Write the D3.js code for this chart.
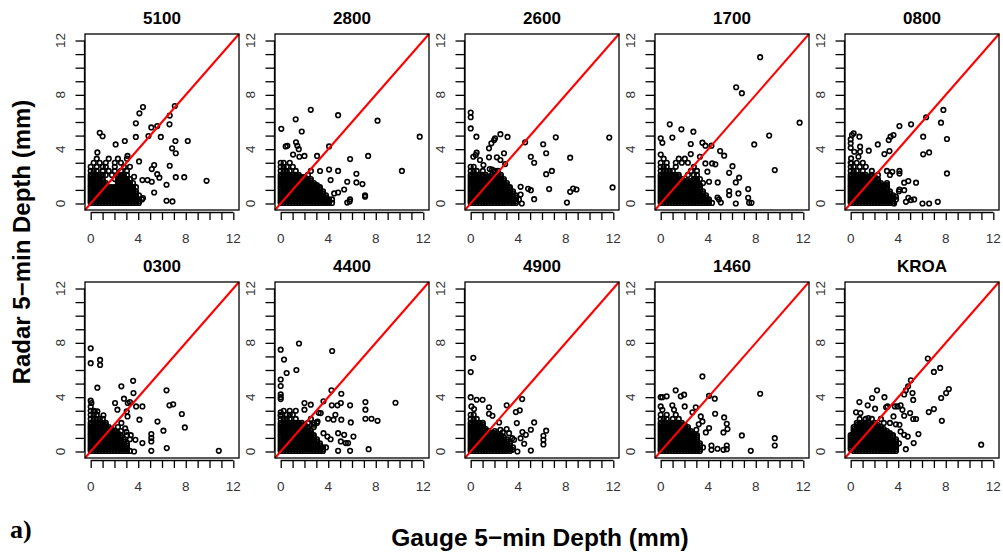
<!DOCTYPE html>
<html><head><meta charset="utf-8">
<script src="https://cdn.jsdelivr.net/npm/d3@7"></script>
<style>body{margin:0;background:#fff}svg{display:block;font-family:"Liberation Sans",Arial,sans-serif}</style>
</head><body>
<svg id="c" width="1003" height="552"></svg>
<script>
// ---------- data ----------
const stations = ["5100","2800","2600","1700","0800","0300","4400","4900","1460","KROA"];
const axisTicks = [0,1,2,3,4,5,6,7,8,9,10,11,12];
const axisLabels = [0,4,8,12];
const axisLimits = [0,12];
const xTitle = "Gauge 5\u2212min Depth (mm)";
const yTitle = "Radar 5\u2212min Depth (mm)";

// scattered points [gauge, radar]
const o5100 = [[.56,3.76],[.76,5.2],[1.0,4.95],[2.1,4.35],[2.87,4.6],[3.1,3.5],[3.8,5.9],[3.8,4.9],[4.1,6.64],[4.4,7.1],[4.07,3.1],[4.86,4.97],[5.1,5.6],[5.6,5.7],[5.9,4.9],[6.65,6.47],[6.63,5.83],[7.08,7.18],[6.85,4.06],[7.13,4.6],[7.16,3.7],[8.17,4.6],[9.75,1.67],[5.34,2.83],[5.14,2.53],[6.65,2.78],[5.6,2.16],[5.78,1.9],[7.16,1.94],[7.87,1.94],[6.38,1.38],[5.34,.81],[5.14,1.6],[4.4,.4],[6.38,.2],[6.88,.15],[4.78,1.72],[4.35,1.72],[3.65,1.97]];
const o2800 = [[.05,5.5],[.42,4.2],[.56,4.25],[1.04,3.6],[1.26,6.2],[1.29,4.5],[1.4,4.25],[1.52,4.0],[1.57,3.44],[1.77,5.3],[2.0,3.5],[2.53,6.9],[3.06,3.5],[4.07,4.2],[4.83,6.5],[5.84,3.27],[7.36,3.5],[8.15,6.1],[10.2,2.4],[11.7,4.92],[4.07,2.5],[4.83,2.4],[3.31,2.39],[4.2,1.72],[5.6,1.6],[6.37,2.19],[6.37,1.55],[6.88,1.43],[5.34,1.03],[4.83,.81],[4.5,.74],[5.6,.07],[5.84,.3],[7.1,.6],[7.1,.5],[4.07,.12],[3.65,.37],[5.8,.15]];
const o2600 = [[0,6.7],[0,6.35],[0,5.53],[.48,4.92],[.42,3.57],[.22,3.44],[.5,3.74],[.78,3.2],[1.07,2.83],[1.54,4.06],[1.74,4.43],[1.97,4.67],[2.05,4.8],[2.5,5.1],[3.1,4.9],[2.8,3.7],[2.5,3.2],[1.54,3.4],[1.6,2.53],[1.8,2.5],[4.58,4.5],[5.06,3.44],[5.34,3.0],[6.1,4.36],[6.35,3.7],[7.16,4.87],[6.35,2.16],[6.83,2.4],[6.6,1.06],[5.34,.32],[4.83,1.08],[5.06,.98],[4.2,1.23],[4.2,.66],[4.3,0],[8.37,3.37],[8.1,.07],[8.37,.86],[8.62,1.1],[8.9,1.03],[11.66,4.85],[11.94,1.18],[2.2,3.4],[2.9,2.9]];
const o1700 = [[0,4.8],[.14,4.47],[0,3.6],[.76,5.83],[.98,4.85],[1.74,5.46],[2.75,5.29],[2.53,4.38],[2.53,3.64],[3.51,4.48],[3.76,4.26],[4.27,4.26],[3.3,3.44],[3.76,2.95],[4.33,2.95],[4.6,2.88],[5.0,3.86],[5.34,3.52],[4.8,1.55],[6.04,2.75],[5.76,2.26],[6.6,1.9],[6.32,1.55],[5.76,.91],[5.76,.62],[6.54,.74],[7.36,1.06],[7.36,.42],[7.44,.05],[7.64,.05],[6.32,0],[4.78,.44],[4.9,.3],[5.06,.07],[6.35,8.56],[6.83,8.12],[8.37,10.77],[7.87,4.35],[9.13,5.0],[9.6,2.46],[11.69,5.95],[3.93,2.34],[4.07,1.6]];
const o0800 = [[0,4.72],[0,4.43],[0,4.1],[.11,5.04],[.25,5.17],[.73,4.92],[.03,3.32],[.03,2.95],[.3,3.81],[.79,4.18],[.79,3.81],[.65,3.44],[1.52,3.89],[2.28,4.35],[2.84,3.64],[3.26,3.86],[3.2,4.67],[3.35,4.92],[3.6,5.04],[4.1,5.7],[5.08,5.83],[6.35,6.35],[6.1,4.92],[6.1,3.62],[6.6,3.76],[7.6,5.95],[7.8,6.89],[8.1,4.75],[8.1,2.21],[4.5,1.53],[4.85,1.65],[5.5,1.53],[4.5,.98],[4.1,1.03],[4.85,.42],[5.06,.25],[5.34,.3],[4.65,.12],[6.04,0],[6.6,0],[7.33,.12],[3.65,0],[3.8,.5],[4.1,2.4],[4.1,2.2],[3.5,2.33]];
const o0300 = [[0,7.6],[0,6.5],[.79,6.74],[.79,6.37],[.56,4.7],[0,3.74],[.06,3.57],[.34,2.95],[.56,2.95],[1.07,2.66],[2.58,4.8],[2.8,3.89],[2.05,3.57],[2.25,3.08],[3.12,3.57],[3.3,3.64],[3.57,5.2],[3.6,4.3],[3.82,3.32],[4.35,3.32],[4.1,2.34],[3.1,2.58],[2.58,2.1],[3.03,2.95],[6.38,4.5],[6.63,3.4],[6.94,3.47],[7.67,2.76],[7.92,1.77],[5.62,2.2],[6.12,1.53],[5.1,1.28],[5.1,1.0],[5.1,.74],[5.1,.05],[6.4,.25],[4.35,.62],[3.76,.86],[3.65,0],[10.78,.05],[3.37,1.2],[2.9,1.7],[3.0,1.45]];
const o4400 = [[0,7.5],[.28,6.77],[.5,5.78],[0,5.3],[0,4.82],[0,4.2],[0,4.0],[0,3.86],[0,2.88],[0,2.63],[1.32,6.0],[1.54,7.95],[4.33,7.4],[4.27,4.5],[5.1,4.25],[3.6,3.69],[4.3,3.4],[4.78,3.4],[5.06,3.57],[5.84,3.4],[3.99,2.41],[4.44,2.34],[4.6,2.7],[5.1,2.34],[5.9,2.14],[7.13,3.64],[7.13,3.08],[7.13,2.41],[7.64,2.41],[8.15,2.26],[9.66,3.59],[3.6,1.35],[3.93,1.1],[4.2,.9],[4.83,1.35],[5.34,1.23],[5.06,.74],[5.48,.62],[5.67,.62],[6.12,1.1],[4.83,.05],[5.84,.05],[7.4,.17],[2.0,3.57],[2.53,3.45],[2.0,3.08],[3.37,2.83],[3.1,2.2],[2.8,1.97],[3.2,2.85]];
const o4900 = [[.22,6.9],[0,5.85],[0,4.0],[.5,3.81],[1.0,3.81],[.06,3.32],[.28,3.12],[1.54,3.25],[1.54,2.78],[1.83,2.63],[2.39,2.14],[3.03,3.4],[3.8,2.9],[4.13,3.03],[4.33,3.86],[3.88,2.09],[5.34,2.14],[5.06,1.6],[4.35,1.43],[6.35,1.53],[6.12,1.16],[6.12,.86],[6.12,.52],[5.06,.07],[4.64,1.23],[4.2,.98],[4.5,.57],[3.93,0],[3.5,.12],[3.03,1.65],[3.23,1.35],[3.5,.98],[3.65,.86],[2.7,1.4],[2.5,1.6]];
const o1460 = [[0,4.0],[.14,4.0],[.5,4.06],[0,3.32],[.14,3.07],[1.26,4.5],[.98,3.4],[1.12,3.07],[1.69,4.06],[1.97,4.18],[2.02,3.32],[2.95,3.25],[2.67,2.88],[3.51,5.53],[3.37,2.58],[3.51,2.21],[4.07,4.1],[4.55,3.89],[4.58,2.78],[5.34,2.51],[5.56,2.04],[5.62,1.65],[5.28,1.4],[4.07,1.72],[3.8,1.4],[6.83,1.18],[5.56,.44],[5.56,.17],[5.28,.12],[4.78,.2],[4.27,.44],[4.27,.12],[7.58,.05],[8.37,4.25],[9.6,.98],[9.6,.44],[3.2,2.0],[3.0,1.6]];
const oKROA = [[.73,3.64],[.45,2.88],[.82,2.83],[1.49,2.46],[1.43,3.4],[1.8,3.94],[2.22,4.5],[2.05,3.15],[2.84,4.0],[2.98,3.25],[3.1,3.32],[3.6,2.58],[3.71,3.32],[3.93,3.32],[4.2,3.4],[4.35,3.07],[4.5,2.63],[4.5,4.2],[4.64,4.5],[4.83,4.8],[5.06,5.24],[5.2,4.3],[5.26,3.8],[5.0,2.83],[5.26,2.39],[5.5,2.39],[5.7,1.28],[5.3,.62],[4.64,.17],[4.8,1.1],[4.5,1.23],[4.2,1.48],[4.1,1.97],[6.49,6.84],[7.0,5.86],[7.53,6.15],[7.61,3.94],[7.0,3.12],[6.57,2.9],[7.67,2.26],[8.03,4.3],[8.26,4.6],[10.98,.5],[3.3,2.1],[3.8,2.0]];

// dense low-depth clusters: radar value y, gauge values x (0.254 mm tips)
const c5100 = [
 {y:.04,x:[0,.25,.51,.76,1.02,1.27,1.52,1.78,2.03,2.29,2.54,2.79,3.05,3.3,3.56,3.81,4.06]},
 {y:.17,x:[0,.25,.51,.76,1.02,1.27,1.52,1.78,2.03,2.29,2.54,2.79,3.05,3.3,3.56,3.81,4.06]},
 {y:.3,x:[0,.25,.51,.76,1.02,1.27,1.52,1.78,2.03,2.29,2.54,2.79,3.05,3.3,3.56,3.81,4.06,4.32]},
 {y:.45,x:[0,.25,.51,.76,1.02,1.27,1.52,1.78,2.03,2.29,2.54,2.79,3.05,3.3,3.56,3.81]},
 {y:.6,x:[0,.25,.51,.76,1.02,1.27,1.52,1.78,2.03,2.29,2.54,2.79,3.05,3.3,3.56,3.81,4.06]},
 {y:.75,x:[0,.25,.51,.76,1.02,1.27,1.52,1.78,2.03,2.29,2.54,2.79,3.05,3.3,3.56,3.81]},
 {y:.9,x:[0,.25,.51,.76,1.02,1.27,1.52,1.78,2.03,2.29,2.54,2.79,3.05,3.3,3.56,3.81]},
 {y:1.05,x:[0,.25,.51,.76,1.02,1.27,1.52,1.78,2.03,2.29,2.54,2.79,3.05,3.3,3.56]},
 {y:1.2,x:[0,.25,.51,.76,1.02,1.27,1.52,1.78,2.03,2.29,2.54,2.79,3.05,3.3,3.56,3.81]},
 {y:1.35,x:[0,.25,.51,.76,1.02,1.27,2.29,2.54,2.79,3.05,3.3]},
 {y:1.5,x:[0,.25,.51,.76,1.02,1.27,2.29,2.54,2.79,3.05,3.3,3.56]},
 {y:1.65,x:[0,.25,.51,.76,1.02,2.29,2.54,2.79,3.05]},
 {y:1.8,x:[0,.25,.51,.76,1.02,2.03,2.29,2.54,2.79,3.05,3.3]},
 {y:1.95,x:[0,.25,.51,.76,2.29,2.54,2.79]},
 {y:2.1,x:[0,.25,.51,.76,1.02,1.27,1.78,2.29,2.54,2.79,3.05]},
 {y:2.4,x:[0,.25,.51,1.02,1.52,2.03,2.54,3.05]},
 {y:2.7,x:[0,.51,1.02,1.27,2.03,2.79,3.3]},
 {y:3.0,x:[.25,.76,1.27,2.03,2.54]},
 {y:3.3,x:[.51,1.52,2.29,3.05]}];
const c2800 = [
 {y:.04,x:[0,.25,.51,.76,1.02,1.27,1.52,1.78,2.03,2.29,2.54,2.79,3.05,3.3,3.56,3.81,4.06,4.32]},
 {y:.17,x:[0,.25,.51,.76,1.02,1.27,1.52,1.78,2.03,2.29,2.54,2.79,3.05,3.3,3.56,3.81,4.06]},
 {y:.3,x:[0,.25,.51,.76,1.02,1.27,1.52,1.78,2.03,2.29,2.54,2.79,3.05,3.3,3.56,3.81,4.06,4.32]},
 {y:.45,x:[0,.25,.51,.76,1.02,1.27,1.52,1.78,2.03,2.29,2.54,2.79,3.05,3.3,3.56,3.81]},
 {y:.6,x:[0,.25,.51,.76,1.02,1.27,1.52,1.78,2.03,2.29,2.54,2.79,3.05,3.3,3.56,3.81]},
 {y:.75,x:[0,.25,.51,.76,1.02,1.27,1.52,1.78,2.03,2.29,2.54,2.79,3.05,3.3,3.56]},
 {y:.9,x:[0,.25,.51,.76,1.02,1.27,1.52,1.78,2.03,2.29,2.54,2.79,3.05,3.3,3.56]},
 {y:1.05,x:[0,.25,.51,.76,1.02,1.27,1.52,1.78,2.03,2.29,2.54,2.79,3.05,3.3]},
 {y:1.2,x:[0,.25,.51,.76,1.02,1.27,1.52,1.78,2.03,2.29,2.54,2.79,3.05,3.3]},
 {y:1.35,x:[0,.25,.51,.76,1.02,1.27,1.52,1.78,2.03,2.29,2.54,2.79,3.05]},
 {y:1.5,x:[0,.25,.51,.76,1.02,1.27,1.52,1.78,2.03,2.29,2.54,2.79]},
 {y:1.65,x:[0,.25,.51,.76,1.02,1.27,1.52,1.78,2.03,2.29,2.54]},
 {y:1.8,x:[0,.25,.51,.76,1.02,1.27,1.52,1.78,2.03,2.29,2.54]},
 {y:1.95,x:[0,.25,.51,.76,1.02,1.27,1.52,1.78,2.03]},
 {y:2.1,x:[0,.25,.51,.76,1.02,1.27,1.52,2.29]},
 {y:2.4,x:[0,.25,.51,.76,1.27,2.54]},
 {y:2.7,x:[0,.25,.51,1.02]},
 {y:3.0,x:[0,.25,.76]}];
const c2600 = [
 {y:.04,x:[0,.25,.51,.76,1.02,1.27,1.52,1.78,2.03,2.29,2.54,2.79,3.05,3.3,3.56,3.81]},
 {y:.17,x:[0,.25,.51,.76,1.02,1.27,1.52,1.78,2.03,2.29,2.54,2.79,3.05,3.3,3.56,3.81]},
 {y:.3,x:[0,.25,.51,.76,1.02,1.27,1.52,1.78,2.03,2.29,2.54,2.79,3.05,3.3,3.56,3.81,4.06]},
 {y:.45,x:[0,.25,.51,.76,1.02,1.27,1.52,1.78,2.03,2.29,2.54,2.79,3.05,3.3,3.56,3.81]},
 {y:.6,x:[0,.25,.51,.76,1.02,1.27,1.52,1.78,2.03,2.29,2.54,2.79,3.05,3.3,3.56,3.81]},
 {y:.75,x:[0,.25,.51,.76,1.02,1.27,1.52,1.78,2.03,2.29,2.54,2.79,3.05,3.3,3.56]},
 {y:.9,x:[0,.25,.51,.76,1.02,1.27,1.52,1.78,2.03,2.29,2.54,2.79,3.05,3.3,3.56]},
 {y:1.05,x:[0,.25,.51,.76,1.02,1.27,1.52,1.78,2.03,2.29,2.54,2.79,3.05,3.3]},
 {y:1.2,x:[0,.25,.51,.76,1.02,1.27,1.52,1.78,2.03,2.29,2.54,2.79,3.05,3.3]},
 {y:1.35,x:[0,.25,.51,.76,1.02,1.27,1.52,1.78,2.03,2.29,2.54,2.79,3.05]},
 {y:1.5,x:[0,.25,.51,.76,1.02,1.27,1.52,1.78,2.03,2.29,2.54,2.79,3.05]},
 {y:1.65,x:[0,.25,.51,.76,1.02,1.27,1.52,1.78,2.03,2.29,2.54,2.79]},
 {y:1.8,x:[0,.25,.51,.76,1.02,1.27,1.52,1.78,2.03,2.29,2.54,2.79]},
 {y:1.95,x:[0,.25,.51,.76,1.02,1.27,1.52,1.78,2.03,2.29,2.54]},
 {y:2.1,x:[0,.25,.51,.76,1.02,1.27,1.78,2.03,2.29,2.54]},
 {y:2.4,x:[0,.25,.51,1.02,2.03,2.29]},
 {y:2.7,x:[0,.25]}];
const c1700 = [
 {y:.04,x:[0,.25,.51,.76,1.02,1.27,1.52,1.78,2.03,2.29,2.54,2.79,3.05,3.3,3.56,3.81,4.06,4.32]},
 {y:.17,x:[0,.25,.51,.76,1.02,1.27,1.52,1.78,2.03,2.29,2.54,2.79,3.05,3.3,3.56,3.81,4.06]},
 {y:.3,x:[0,.25,.51,.76,1.02,1.27,1.52,1.78,2.03,2.29,2.54,2.79,3.05,3.3,3.56,3.81,4.06]},
 {y:.45,x:[0,.25,.51,.76,1.02,1.27,1.52,1.78,2.03,2.29,2.54,2.79,3.05,3.3,3.56,3.81]},
 {y:.6,x:[0,.25,.51,.76,1.02,1.27,1.52,1.78,2.03,2.29,2.54,2.79,3.05,3.3,3.56,3.81]},
 {y:.75,x:[0,.25,.51,.76,1.02,1.27,1.52,1.78,2.03,2.29,2.54,2.79,3.05,3.3,3.56]},
 {y:.9,x:[0,.25,.51,.76,1.02,1.27,1.52,1.78,2.03,2.29,2.54,2.79,3.05,3.3,3.56]},
 {y:1.05,x:[0,.25,.51,.76,1.02,1.27,1.52,1.78,2.03,2.29,2.54,2.79,3.05,3.3]},
 {y:1.2,x:[0,.25,.51,.76,1.02,1.27,1.52,1.78,2.03,2.29,2.54,2.79,3.05,3.3]},
 {y:1.35,x:[0,.25,.51,.76,1.02,1.27,1.52,1.78,2.03,2.29,2.54,2.79,3.05,3.3]},
 {y:1.5,x:[0,.25,.51,.76,1.02,1.27,1.52,1.78,2.03,2.29,2.54,2.79,3.05,3.56]},
 {y:1.65,x:[0,.25,.51,.76,1.02,1.27,1.52,1.78,2.03,2.29,2.54,2.79,3.05]},
 {y:1.8,x:[0,.25,.51,.76,1.02,1.27,1.52,1.78,2.79,3.05,3.3]},
 {y:1.95,x:[0,.25,.51,.76,1.02,1.27,1.52]},
 {y:2.1,x:[0,.25,.51,.76,1.02,1.27,1.52,2.29,2.79,3.05]},
 {y:2.4,x:[0,.25,.51,.76,1.02,2.54,3.05]},
 {y:2.7,x:[0,.25,.51,1.27,2.79]},
 {y:3.0,x:[0,.51,1.27,1.78,2.29]},
 {y:3.3,x:[.25,1.52,2.03]}];
const c0800 = [
 {y:.04,x:[0,.25,.51,.76,1.02,1.27,1.52,1.78,2.03,2.29,2.54,2.79,3.05,3.3,3.56]},
 {y:.17,x:[0,.25,.51,.76,1.02,1.27,1.52,1.78,2.03,2.29,2.54,2.79,3.05,3.3,3.56]},
 {y:.3,x:[0,.25,.51,.76,1.02,1.27,1.52,1.78,2.03,2.29,2.54,2.79,3.05,3.3,3.56,3.81]},
 {y:.45,x:[0,.25,.51,.76,1.02,1.27,1.52,1.78,2.03,2.29,2.54,2.79,3.05,3.3,3.56]},
 {y:.6,x:[0,.25,.51,.76,1.02,1.27,1.52,1.78,2.03,2.29,2.54,2.79,3.05,3.3,3.56]},
 {y:.75,x:[0,.25,.51,.76,1.02,1.27,1.52,1.78,2.03,2.29,2.54,2.79,3.05,3.3]},
 {y:.9,x:[0,.25,.51,.76,1.02,1.27,1.52,1.78,2.03,2.29,2.54,2.79,3.05,3.3,4.06]},
 {y:1.05,x:[0,.25,.51,.76,1.02,1.27,1.52,1.78,2.03,2.29,2.54,2.79,3.05]},
 {y:1.2,x:[0,.25,.51,.76,1.02,1.27,1.52,1.78,2.03,2.29,2.54,2.79,3.05]},
 {y:1.35,x:[0,.25,.51,.76,1.02,1.27,1.52,1.78,2.03,2.29,2.54,2.79,3.05]},
 {y:1.5,x:[0,.25,.51,.76,1.02,1.27,1.52,1.78,2.03,2.29,2.54,3.05]},
 {y:1.65,x:[0,.25,.51,.76,1.02,1.27,1.52,1.78,2.03,2.29]},
 {y:1.8,x:[0,.25,.51,.76,1.02,1.27,1.52,1.78,2.03,2.29]},
 {y:1.95,x:[0,.25,.51,.76,1.02,1.27,1.52,1.78,2.03]},
 {y:2.1,x:[0,.25,.51,.76,1.02,1.27,1.78,2.29,3.3]},
 {y:2.4,x:[0,.25,.51,1.02,1.78,3.05]},
 {y:2.7,x:[0,.25,.76,1.27]},
 {y:3.0,x:[0,.51,1.02]}];
const c0300 = [
 {y:.04,x:[0,.25,.51,.76,1.02,1.27,1.52,1.78,2.03,2.29,2.54,2.79,3.05,3.3]},
 {y:.17,x:[0,.25,.51,.76,1.02,1.27,1.52,1.78,2.03,2.29,2.54,2.79,3.05]},
 {y:.3,x:[0,.25,.51,.76,1.02,1.27,1.52,1.78,2.03,2.29,2.54,2.79,3.05]},
 {y:.45,x:[0,.25,.51,.76,1.02,1.27,1.52,1.78,2.03,2.29,2.54,2.79,3.05]},
 {y:.6,x:[0,.25,.51,.76,1.02,1.27,1.52,1.78,2.03,2.29,2.54,2.79,3.05]},
 {y:.75,x:[0,.25,.51,.76,1.02,1.27,1.52,1.78,2.03,2.29,2.54,2.79]},
 {y:.9,x:[0,.25,.51,.76,1.02,1.27,1.52,1.78,2.03,2.29,2.54,2.79,3.3]},
 {y:1.05,x:[0,.25,.51,.76,1.02,1.27,1.52,1.78,2.03,2.29,2.54]},
 {y:1.2,x:[0,.25,.51,.76,1.02,1.27,1.52,1.78,2.03,2.29,2.54,3.05]},
 {y:1.35,x:[0,.25,.51,.76,1.02,1.27,1.52,1.78,2.03,2.29]},
 {y:1.5,x:[0,.25,.51,.76,1.02,1.27,1.52,1.78,2.03,2.54]},
 {y:1.65,x:[0,.25,.51,.76,1.02,1.27,1.52,1.78]},
 {y:1.8,x:[0,.25,.51,.76,1.02,1.27,1.52,2.29]},
 {y:1.95,x:[0,.25,.51,.76,1.02,1.27]},
 {y:2.1,x:[0,.25,.51,.76,1.02,1.27]},
 {y:2.4,x:[0,.25,.51,.76,1.02]},
 {y:2.7,x:[0,.25,.51]},
 {y:3.0,x:[0,.25]},
 {y:3.3,x:[0]}];
const c4400 = [
 {y:.04,x:[0,.25,.51,.76,1.02,1.27,1.52,1.78,2.03,2.29,2.54,2.79,3.05,3.3,3.56]},
 {y:.17,x:[0,.25,.51,.76,1.02,1.27,1.52,1.78,2.03,2.29,2.54,2.79,3.05,3.3,3.56]},
 {y:.3,x:[0,.25,.51,.76,1.02,1.27,1.52,1.78,2.03,2.29,2.54,2.79,3.05,3.3,3.56,3.81]},
 {y:.45,x:[0,.25,.51,.76,1.02,1.27,1.52,1.78,2.03,2.29,2.54,2.79,3.05,3.3]},
 {y:.6,x:[0,.25,.51,.76,1.02,1.27,1.52,1.78,2.03,2.29,2.54,2.79,3.05,3.3]},
 {y:.75,x:[0,.25,.51,.76,1.02,1.27,1.52,1.78,2.03,2.29,2.54,2.79,3.05]},
 {y:.9,x:[0,.25,.51,.76,1.02,1.27,1.52,1.78,2.03,2.29,2.54,2.79,3.05]},
 {y:1.05,x:[0,.25,.51,.76,1.02,1.27,1.52,1.78,2.03,2.29,2.54,2.79]},
 {y:1.2,x:[0,.25,.51,.76,1.02,1.27,1.52,1.78,2.03,2.29,2.54,2.79]},
 {y:1.35,x:[0,.25,.51,.76,1.02,1.27,1.52,1.78,2.03,2.29,2.54]},
 {y:1.5,x:[0,.25,.51,.76,1.02,1.27,1.52,1.78,2.03,2.29,2.54]},
 {y:1.65,x:[0,.25,.51,.76,1.02,1.27,1.52,1.78,2.03,2.29]},
 {y:1.8,x:[0,.25,.51,.76,1.02,1.27,1.52,1.78,2.03,2.29,2.79]},
 {y:1.95,x:[0,.25,.51,.76,1.02,1.27,1.52,1.78,2.03]},
 {y:2.1,x:[0,.25,.51,.76,1.02,1.27,1.52,1.78,2.29,2.79,3.05]},
 {y:2.4,x:[0,.25,.51,.76,1.27,2.54]},
 {y:2.7,x:[0,.51,.76,1.02]},
 {y:3.0,x:[.25,.76,1.27]}];
const c4900 = [
 {y:.04,x:[0,.25,.51,.76,1.02,1.27,1.52,1.78,2.03,2.29,2.54,2.79,3.05,3.3]},
 {y:.17,x:[0,.25,.51,.76,1.02,1.27,1.52,1.78,2.03,2.29,2.54,2.79,3.05,3.3]},
 {y:.3,x:[0,.25,.51,.76,1.02,1.27,1.52,1.78,2.03,2.29,2.54,2.79,3.05,3.3,3.56]},
 {y:.45,x:[0,.25,.51,.76,1.02,1.27,1.52,1.78,2.03,2.29,2.54,2.79,3.05,3.3]},
 {y:.6,x:[0,.25,.51,.76,1.02,1.27,1.52,1.78,2.03,2.29,2.54,2.79,3.05,3.3]},
 {y:.75,x:[0,.25,.51,.76,1.02,1.27,1.52,1.78,2.03,2.29,2.54,2.79,3.05]},
 {y:.9,x:[0,.25,.51,.76,1.02,1.27,1.52,1.78,2.03,2.29,2.54,2.79,3.05]},
 {y:1.05,x:[0,.25,.51,.76,1.02,1.27,1.52,1.78,2.03,2.29,2.54,2.79]},
 {y:1.2,x:[0,.25,.51,.76,1.02,1.27,1.52,1.78,2.03,2.29,2.54]},
 {y:1.35,x:[0,.25,.51,.76,1.02,1.27,1.52,1.78,2.03]},
 {y:1.5,x:[0,.25,.51,.76,1.02,1.27,1.52,2.03]},
 {y:1.65,x:[0,.25,.51,.76,1.02,1.27]},
 {y:1.8,x:[0,.25,.51,.76,1.02]},
 {y:1.95,x:[0,.25,.51,.76,1.02]},
 {y:2.1,x:[0,.25,.51,.76,1.02]},
 {y:2.4,x:[0,.25,.51]},
 {y:2.7,x:[0,.25]}];
const c1460 = [
 {y:.04,x:[0,.25,.51,.76,1.02,1.27,1.52,1.78,2.03,2.29,2.54,2.79,3.05,3.3]},
 {y:.17,x:[0,.25,.51,.76,1.02,1.27,1.52,1.78,2.03,2.29,2.54,2.79,3.05,3.3]},
 {y:.3,x:[0,.25,.51,.76,1.02,1.27,1.52,1.78,2.03,2.29,2.54,2.79,3.05,3.3,3.56]},
 {y:.45,x:[0,.25,.51,.76,1.02,1.27,1.52,1.78,2.03,2.29,2.54,2.79,3.05,3.3]},
 {y:.6,x:[0,.25,.51,.76,1.02,1.27,1.52,1.78,2.03,2.29,2.54,2.79,3.05,3.3]},
 {y:.75,x:[0,.25,.51,.76,1.02,1.27,1.52,1.78,2.03,2.29,2.54,2.79,3.05]},
 {y:.9,x:[0,.25,.51,.76,1.02,1.27,1.52,1.78,2.03,2.29,2.54,2.79,3.05]},
 {y:1.05,x:[0,.25,.51,.76,1.02,1.27,1.52,1.78,2.03,2.29,2.54,2.79,3.05]},
 {y:1.2,x:[0,.25,.51,.76,1.02,1.27,1.52,1.78,2.03,2.29,2.54,2.79,3.05]},
 {y:1.35,x:[0,.25,.51,.76,1.02,1.27,1.52,1.78,2.03,2.29,2.54]},
 {y:1.5,x:[0,.25,.51,.76,1.02,1.27,1.52,1.78,2.03,2.29,2.54]},
 {y:1.65,x:[0,.25,.51,.76,1.02,1.27,1.52,1.78,2.03,2.29]},
 {y:1.8,x:[0,.25,.51,.76,1.02,1.27,1.52,1.78,2.03,2.29]},
 {y:1.95,x:[0,.25,.51,.76,1.02,1.27,1.52,1.78,2.03]},
 {y:2.1,x:[0,.25,.51,.76,1.02,1.27,1.52,1.78]},
 {y:2.4,x:[0,.25,.51,1.02,1.52]},
 {y:2.7,x:[0,.51,1.27]}];
const cKROA = [
 {y:.04,x:[.25,.51,.76,1.02,1.27,1.52,1.78,2.03,2.29,2.54,2.79,3.05,3.3,3.56,3.81]},
 {y:.17,x:[0,.25,.51,.76,1.02,1.27,1.52,1.78,2.03,2.29,2.54,2.79,3.05,3.3,3.56,3.81]},
 {y:.3,x:[0,.25,.51,.76,1.02,1.27,1.52,1.78,2.03,2.29,2.54,2.79,3.05,3.3,3.56,3.81]},
 {y:.45,x:[0,.25,.51,.76,1.02,1.27,1.52,1.78,2.03,2.29,2.54,2.79,3.05,3.3,3.56,3.81]},
 {y:.6,x:[0,.25,.51,.76,1.02,1.27,1.52,1.78,2.03,2.29,2.54,2.79,3.05,3.3,3.56,3.81,4.06]},
 {y:.75,x:[0,.25,.51,.76,1.02,1.27,1.52,1.78,2.03,2.29,2.54,2.79,3.05,3.3,3.56,3.81]},
 {y:.9,x:[0,.25,.51,.76,1.02,1.27,1.52,1.78,2.03,2.29,2.54,2.79,3.05,3.3,3.56,3.81]},
 {y:1.05,x:[0,.25,.51,.76,1.02,1.27,1.52,1.78,2.03,2.29,2.54,2.79,3.05,3.3,3.56]},
 {y:1.2,x:[0,.25,.51,.76,1.02,1.27,1.52,1.78,2.03,2.29,2.54,2.79,3.05,3.3,3.56]},
 {y:1.35,x:[.25,.51,.76,1.02,1.27,1.52,1.78,2.03,2.29,2.54,2.79,3.05,3.3]},
 {y:1.5,x:[.25,.51,.76,1.02,1.27,1.52,1.78,2.03,2.29,2.54,2.79,3.05]},
 {y:1.65,x:[.25,.51,.76,1.02,1.27,1.52,1.78,2.03,2.29,2.54,2.79]},
 {y:1.8,x:[.25,.51,.76,1.02,1.27,1.52,1.78,2.03,2.29,2.54]},
 {y:1.95,x:[.51,.76,1.02,1.27,1.52,1.78,2.03,2.29]},
 {y:2.1,x:[.51,.76,1.02,1.27,1.52,2.03,2.79]},
 {y:2.4,x:[.76,1.27,1.78,2.54]}];

const scattered = [o5100,o2800,o2600,o1700,o0800,o0300,o4400,o4900,o1460,oKROA];
const dense = [c5100,c2800,c2600,c1700,c0800,c0300,c4400,c4900,c1460,cKROA];

// ---------- layout ----------
const svg = d3.select("#c");
const colLeft = [85,275,465,655,845], rowTop = [34,282], pw = 154, ph = 176;
const pad = 0.04*(axisLimits[1]-axisLimits[0]);
const dom = [axisLimits[0]-pad, axisLimits[1]+pad];

stations.forEach((name,i)=>{
  const L = colLeft[i%5], T = rowTop[Math.floor(i/5)];
  const x = d3.scaleLinear().domain(dom).range([L,L+pw]);
  const y = d3.scaleLinear().domain(dom).range([T+ph,T]);
  const g = svg.append("g");
  const pts = scattered[i].concat(dense[i].flatMap(r=>r.x.map(v=>[v,r.y])));
  g.append("g").selectAll("circle").data(pts).join("circle")
    .attr("cx",d=>x(d[0])).attr("cy",d=>y(d[1])).attr("r",2.3)
    .attr("fill","none").attr("stroke","#000").attr("stroke-width",1.6);
  g.append("line").attr("x1",x(dom[0])).attr("y1",y(dom[0])).attr("x2",x(dom[1])).attr("y2",y(dom[1]))
    .attr("stroke","#ff0000").attr("stroke-width",2);
  g.append("rect").attr("x",L).attr("y",T).attr("width",pw).attr("height",ph)
    .attr("fill","none").attr("stroke","#000").attr("stroke-width",1.3);
  // y axis (left)
  const ya = g.append("g").attr("transform",`translate(${L-0.5},0)`)
    .call(d3.axisLeft(y).tickValues(axisTicks).tickSize(9).tickSizeOuter(0).tickFormat(""));
  ya.select(".domain").remove();
  ya.selectAll(".tick line").attr("stroke","#000").attr("stroke-width",1.3);
  g.append("line").attr("x1",L-0.5).attr("x2",L-0.5).attr("y1",y(axisLimits[0])).attr("y2",y(axisLimits[1]))
    .attr("stroke","#000").attr("stroke-width",1.3);
  g.selectAll(".ylab").data(axisLabels).join("text").attr("class","ylab")
    .attr("transform",d=>`translate(${L-25},${y(d)}) rotate(-90)`)
    .attr("text-anchor","middle").attr("dy","0.35em")
    .attr("font-size",13.5).attr("fill","#333").text(d=>d);
  // x axis (bottom)
  const by = T+ph+2.5;
  const xa = g.append("g").attr("transform",`translate(0,${by})`)
    .call(d3.axisBottom(x).tickValues(axisTicks).tickSize(7.5).tickSizeOuter(0).tickFormat(""));
  xa.select(".domain").remove();
  xa.selectAll(".tick line").attr("stroke","#000").attr("stroke-width",1.3);
  g.append("line").attr("x1",x(axisLimits[0])).attr("x2",x(axisLimits[1])).attr("y1",by).attr("y2",by)
    .attr("stroke","#000").attr("stroke-width",1.3);
  g.selectAll(".xlab").data(axisLabels).join("text").attr("class","xlab")
    .attr("x",d=>x(d)).attr("y",T+ph+33).attr("text-anchor","middle")
    .attr("font-size",13.5).attr("fill","#333").text(d=>d);
  // title
  g.append("text").attr("x",L+pw/2).attr("y",T-10).attr("text-anchor","middle")
    .attr("font-size",17).attr("font-weight","bold").attr("fill","#000").text(name);
});

svg.append("text").attr("transform","translate(22,242) rotate(-90)").attr("text-anchor","middle")
  .attr("dy","0.35em").attr("font-size",24).attr("font-weight","bold").text(yTitle);
svg.append("text").attr("x",540).attr("y",546).attr("text-anchor","middle")
  .attr("font-size",24.5).attr("font-weight","bold").text(xTitle);
svg.append("text").attr("x",10).attr("y",538).attr("font-family","'Liberation Serif',serif")
  .attr("font-size",26).attr("font-weight","bold").text("a)");
</script>
</body></html>
